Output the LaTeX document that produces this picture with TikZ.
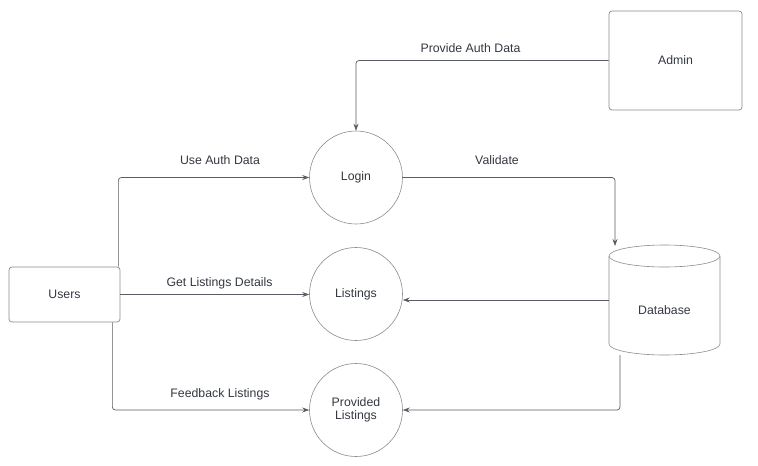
\documentclass[tikz,border=0pt]{standalone}
\usepackage{fontspec}
\setmainfont{Liberation Sans}
\usetikzlibrary{arrows.meta,calc,shapes.geometric}
\definecolor{linec}{HTML}{5A5C63}
\definecolor{shapec}{HTML}{8A8C92}
\definecolor{txt}{HTML}{333740}
\begin{document}
\begin{tikzpicture}[x=1pt,y=-1pt,
  font=\fontsize{12.3}{13.5}\selectfont, text=txt,
  boxn/.style={draw=shapec, line width=0.7pt, rounded corners=3pt, align=center},
  proc/.style={draw=shapec, line width=0.6pt, circle, minimum size=93pt, inner sep=0pt, align=center},
  arr/.style={draw=linec, line width=0.7pt, rounded corners=3pt, -{Stealth[length=7pt,width=5pt]}},
  lbl/.style={inner sep=1pt}]
\useasboundingbox (0,0) rectangle (758,466);
\node[boxn, minimum width=133pt, minimum height=99pt] (admin) at (675.5,60.5) {Admin};
\node[boxn, minimum width=111pt, minimum height=55pt] (users) at (64.5,294.5) {Users};
\node[proc] (login) at (356,177.5) {Login};
\node[proc] (list) at (356,294) {Listings};
\node[proc] (prov) at (356,410) {Provided\\Listings};
% database cylinder
\draw[shapec, line width=0.6pt] (609,256) -- (609,344) arc[start angle=180, end angle=360, x radius=55.5pt, y radius=11pt] -- (720,256);
\draw[shapec, line width=0.6pt] (664.5,256) ellipse[x radius=55.5pt, y radius=11pt];
\node (db) at (664.5,310) {Database};
\coordinate (dbtop) at (615,246);
\coordinate (dbleft) at (609,300);
\coordinate (dbbot) at (620,355);
% connectors
\draw[arr] (admin.west) -| (login.north);
\draw[arr] ([xshift=-2pt]users.north east) |- (login.west);
\draw[arr] (login.east) -| (dbtop);
\draw[arr] (users.east) -- (list.west |- users.east);
\draw[arr] (dbleft) -- (list.east |- dbleft);
\draw[arr] ([xshift=-8pt]users.south east) |- (prov.west);
\draw[arr] (dbbot) |- (prov.east);
% labels
\node[lbl] (l1) at (470.5,48) {Provide Auth Data};
\node[lbl] (l2) at (220,160) {Use Auth Data};
\node[lbl] (l3) at (497,160) {Validate};
\node[lbl] (l4) at (219.5,283) {Get Listings Details};
\node[lbl] (l5) at (220,394) {Feedback Listings};
\end{tikzpicture}
\end{document}
